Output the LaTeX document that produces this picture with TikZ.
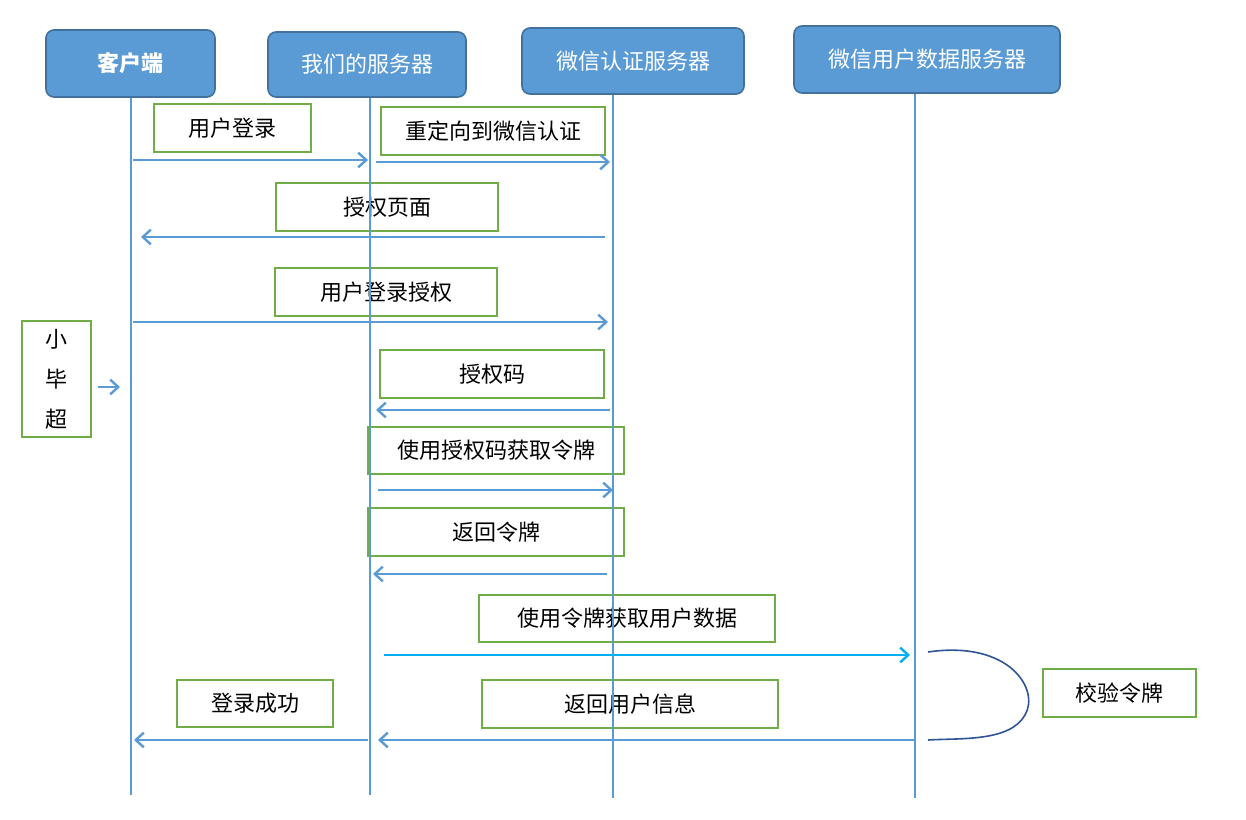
\documentclass[tikz,border=0pt]{standalone}
\usepackage{fontspec}
\newfontfamily\cjk{Noto Sans CJK SC}
\usetikzlibrary{arrows.meta}
\definecolor{hdr}{HTML}{5B9BD5}
\definecolor{hdrb}{HTML}{41719C}
\definecolor{grn}{HTML}{70AD47}
\definecolor{cyan2}{HTML}{00B0F0}
\definecolor{dblue}{HTML}{2F5597}
\begin{document}
\begin{tikzpicture}[x=0.75pt,y=-0.75pt,
  hd/.style={draw=hdrb,line width=1.2pt,fill=hdr,rounded corners=6pt,text=white,font=\cjk\fontsize{16.5}{20}\selectfont},
  lab/.style={draw=grn,line width=1pt,fill=white,font=\cjk\fontsize{16.5}{20}\selectfont},
  life/.style={draw=hdr,line width=2pt},
  msg/.style={draw=hdr,line width=2.2pt,-{Straight Barb[length=6pt,width=11pt,line width=1.8pt]}}]
\useasboundingbox[fill=white] (0,0) rectangle (1246,820);
% labels
\newcommand\bx[6]{\node[lab,minimum width={(#3-#2)*0.75pt},minimum height={(#5-#4)*0.75pt},inner sep=0] (#1) at ({(#2+#3)/2},{(#4+#5)/2}) {#6};}
\bx{l1}{154}{311}{104}{152}{用户登录\hspace{36pt}}
\bx{l2}{381}{605}{107}{155}{重定向到微信认证}
\bx{l3}{276}{498}{183}{231}{授权页面}
\bx{l4}{275}{497}{268}{316}{用户登录授权}
\node[lab,minimum width=51.75pt,minimum height=87pt,inner sep=0,align=center,font=\cjk\fontsize{16.5}{30}\selectfont] (xbc) at (56.5,379) {小\\毕\\超};
\bx{l5}{380}{604}{350}{398}{授权码}
\bx{l6}{368}{624}{427}{474}{使用授权码获取令牌}
\bx{l7}{368}{624}{508}{556}{返回令牌}
\bx{l8}{479}{775}{595}{642}{使用令牌获取用户数据}
\bx{l9}{177}{333}{680}{727}{登录成功\hspace{12pt}}
\bx{l10}{482}{778}{680}{728}{返回用户信息}
\bx{l11}{1043}{1196}{669}{717}{校验令牌}
% lifelines
\coordinate (a0) at (131,97); \coordinate (a1) at (131,795);
\coordinate (b0) at (370,97); \coordinate (b1) at (370,795);
\coordinate (c0) at (613,94); \coordinate (c1) at (613,798);
\coordinate (d0) at (915,93); \coordinate (d1) at (915,798);
\draw[life] (a0)--(a1); \draw[life] (b0)--(b1); \draw[life] (c0)--(c1); \draw[life] (d0)--(d1);
% headers
\node[hd,minimum width=126.75pt,minimum height=50.25pt,font=\cjk\bfseries\fontsize{16.5}{20}\selectfont] (h1) at (130.5,63.5) {客户端};
\node[hd,minimum width=148.5pt,minimum height=48.75pt] (h2) at (367,64.5) {我们的服务器};
\node[hd,minimum width=166.5pt,minimum height=49.5pt] (h3) at (633,61) {微信认证服务器};
\node[hd,minimum width=199.5pt,minimum height=50.25pt] (h4) at (927,59.5) {微信用户数据服务器};
% messages
\draw[msg] (133,160)--(368,160);
\draw[msg] (376,162)--(610,162);
\draw[msg] (605,237)--(141,237);
\draw[msg] (133,322)--(608,322);
\draw[msg] (xbc.east)++(6,8) coordinate (xs) (xs)--(120,387);
\draw[msg] (610,410)--(376,410);
\draw[msg] (378,490)--(613,490);
\draw[msg] (607,574)--(373,574);
\draw[msg,draw=cyan2] (384,655)--(910,655);
\draw[msg] (368,740)--(134,740);
\draw[msg] (915,740)--(378,740);
\coordinate (k0) at (928,652); \coordinate (k1) at (928,740);
\draw[dblue,line width=1.2pt] (k0) .. controls (1010,640) and (1040,690) .. (1025,715) .. controls (1010,742) and (960,738) .. (k1);
\end{tikzpicture}
\end{document}
